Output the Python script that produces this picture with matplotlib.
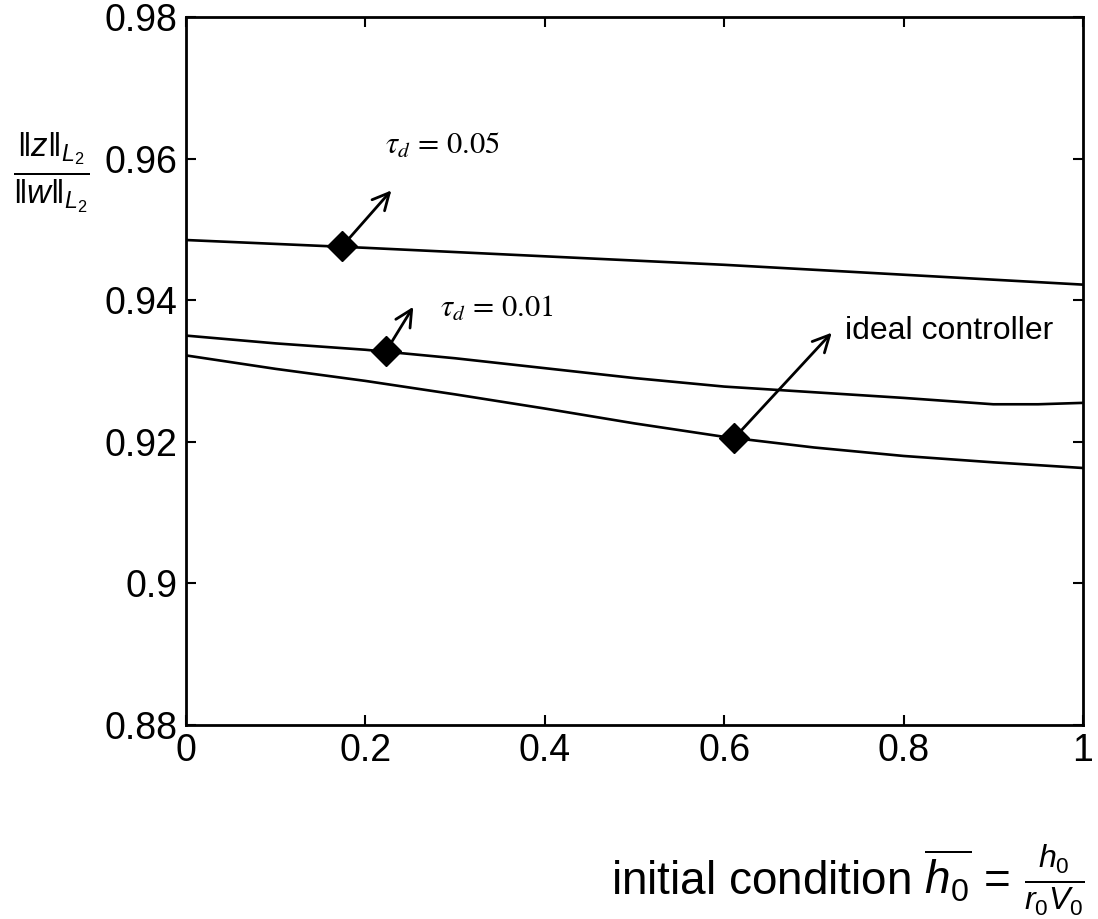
import numpy as np
import matplotlib
matplotlib.use('Agg')
import matplotlib.pyplot as plt
from matplotlib.ticker import FuncFormatter

plt.rcParams['font.family'] = ['Liberation Sans', 'DejaVu Sans']
plt.rcParams['mathtext.fontset'] = 'custom'
plt.rcParams['mathtext.rm'] = 'Liberation Sans'
plt.rcParams['mathtext.it'] = 'Liberation Sans:italic'

# DATOS
x_tau05 = [0.0, 0.2, 0.4, 0.6, 0.8, 1.0]
y_tau05 = [0.9485, 0.9474, 0.9462, 0.9450, 0.9436, 0.9422]

x_tau01 = [0.0, 0.1, 0.2, 0.3, 0.4, 0.5, 0.6, 0.7, 0.8, 0.9, 0.95, 1.0]
y_tau01 = [0.9350, 0.9339, 0.9330, 0.9318, 0.9304, 0.9290, 0.9278, 0.9270,
           0.9262, 0.9253, 0.9253, 0.9255]

x_ideal = [0.0, 0.1, 0.2, 0.3, 0.4, 0.5, 0.6, 0.7, 0.8, 0.9, 1.0]
y_ideal = [0.9322, 0.9303, 0.9286, 0.9267, 0.9247, 0.9226, 0.9207, 0.9192,
           0.9180, 0.9171, 0.9163]

# marcadores / flechas: (punto, punta de flecha, texto)
marks = [
    ((0.174, 0.9476), (0.231, 0.9558), (0.222, 0.9618), r'$\tau_d\, =\, 0.05$', 'stix'),
    ((0.223, 0.9328), (0.255, 0.9394), (0.283, 0.9388), r'$\tau_d\, =\, 0.01$', 'stix'),
    ((0.611, 0.9205), (0.722, 0.9357), (0.735, 0.9356), 'ideal controller', None),
]

xticks = [0, 0.2, 0.4, 0.6, 0.8, 1]
yticks = [0.88, 0.9, 0.92, 0.94, 0.96, 0.98]

#----------------------------------------
fig = plt.figure(figsize=(10.98, 9.19), dpi=100)
ax = fig.add_axes([0.1694, 0.2111, 0.8169, 0.7704])

for xs, ys in [(x_tau05, y_tau05), (x_tau01, y_tau01), (x_ideal, y_ideal)]:
    ax.plot(xs, ys, color='black', lw=1.9)

for (p, tip, tpos, label, mf) in marks:
    ax.plot(p[0], p[1], marker='D', ms=15, color='black', zorder=5)
    ax.annotate('', xy=tip, xytext=p,
                arrowprops=dict(arrowstyle='->', color='black', lw=2.0,
                                mutation_scale=30))
    if mf:
        ax.text(tpos[0], tpos[1], label, fontsize=22, va='center', ha='left',
                math_fontfamily=mf)
    else:
        ax.text(tpos[0], tpos[1], label, fontsize=23, va='center', ha='left')

ax.set_xlim(0, 1)
ax.set_ylim(0.88, 0.98)
ax.set_xticks(xticks)
ax.set_yticks(yticks)
ax.xaxis.set_major_formatter(FuncFormatter(lambda v, p: '%g' % v))
ax.yaxis.set_major_formatter(FuncFormatter(lambda v, p: '%g' % v))
ax.tick_params(direction='in', length=7, width=1.5, labelsize=27,
               top=True, right=True, pad=6)
for s in ax.spines.values():
    s.set_linewidth(2.0)

# etiquetas
fig.text(0.047, 0.812, r'$\frac{\|z\|_{L_2}}{\|w\|_{L_2}}$', fontsize=34,
         ha='center', va='center')
fig.text(0.988, 0.042,
         r'initial condition $\overline{h_0}\, =\, \frac{h_0}{r_0 V_0}$',
         fontsize=33, ha='right', va='center')

fig.savefig('out.png', dpi=100, facecolor='white')
